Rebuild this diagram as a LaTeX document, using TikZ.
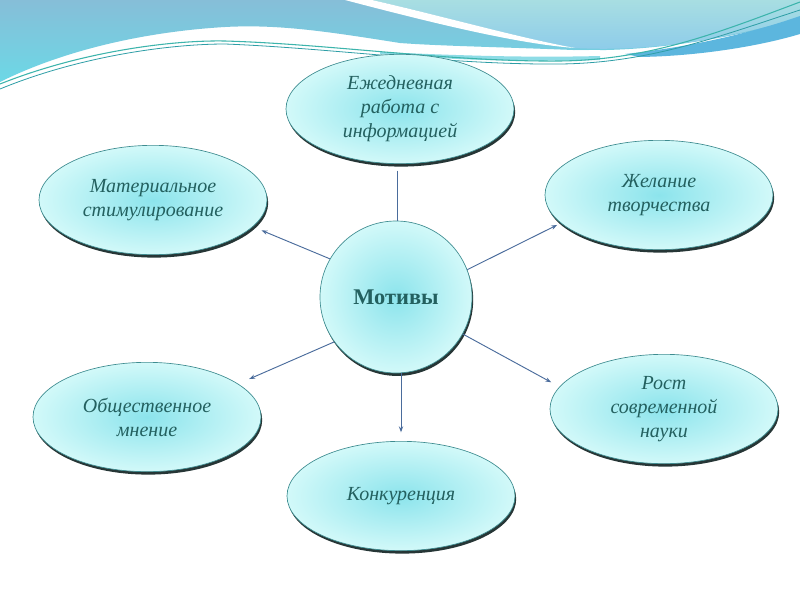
\documentclass[tikz,border=0pt]{standalone}
\usepackage{fontspec}
\setmainfont{Liberation Serif}
\usetikzlibrary{shapes.geometric,shadows,arrows.meta}
\definecolor{txtc}{HTML}{23605F}
\definecolor{edgec}{HTML}{3E8C90}
\definecolor{innerc}{HTML}{8CE4EC}
\definecolor{outerc}{HTML}{D2F9F9}
\definecolor{connc}{HTML}{4A6C9C}
\definecolor{bandA}{HTML}{86BED8}
\definecolor{bandAb}{HTML}{6CD8E6}
\definecolor{bandB}{HTML}{A8DEE2}
\definecolor{bandBb}{HTML}{8CCBEA}
\definecolor{bandC}{HTML}{5CB6DE}
\definecolor{bandD}{HTML}{8EDCE6}
\definecolor{wline}{HTML}{3CB4AC}
\definecolor{wline2}{HTML}{2E9EA6}
\begin{document}
\begin{tikzpicture}[x=0.75pt,y=-0.75pt,
  bubble/.style={ellipse, draw=edgec, line width=0.5pt, inner sep=0pt,
    inner color=innerc, outer color=outerc,
    minimum width=171pt, minimum height=82pt,
    text=txtc, align=center, font=\itshape\fontsize{15}{18}\selectfont,
    drop shadow={shadow xshift=0.9pt, shadow yshift=-2.2pt, fill=black!85!teal, opacity=0.85}},
  hub/.style={circle, draw=edgec, line width=0.5pt, inner sep=0pt,
    inner color=innerc, outer color=outerc, minimum size=114pt,
    text=txtc, font=\bfseries\fontsize{16.8}{18}\selectfont,
    drop shadow={shadow xshift=0.9pt, shadow yshift=-2.2pt, fill=black!85!teal, opacity=0.85}},
  conn/.style={draw=connc, line width=0.7pt, -{Stealth[length=4.5pt,width=3.2pt]}},
  plainconn/.style={draw=connc, line width=0.7pt}]
\useasboundingbox (0,0) rectangle (800,600);
\fill[white] (0,0) rectangle (800,600);
% top banner
\shade[top color=bandA, bottom color=bandAb]
  (0,0) -- (800,0) -- (800,20) .. controls (720,40) and (650,52) .. (573,50)
  .. controls (500,47) and (440,46) .. (400,43)
  .. controls (330,32) and (280,24) .. (225,27)
  .. controls (140,32) and (60,52) .. (0,82) -- cycle;
\shade[top color=bandB, bottom color=bandBb]
  (372,0) -- (800,0) -- (800,18) .. controls (720,40) and (650,52) .. (575,48)
  .. controls (520,38) and (450,18) .. (372,0) -- cycle;
\fill[white] (345,0) -- (372,0) .. controls (450,18) and (520,38) .. (575,48)
  .. controls (520,44) and (440,25) .. (345,0) -- cycle;
\fill[bandC] (625,54) .. controls (700,46) and (760,30) .. (800,16) -- (800,34)
  .. controls (760,46) and (700,56) .. (640,57) -- cycle;
\fill[white] (0,84) .. controls (60,55) and (140,34) .. (225,29)
  .. controls (280,26) and (330,34) .. (400,45)
  .. controls (450,50) and (520,52) .. (600,50) -- (600,53)
  .. controls (520,55) and (450,54) .. (400,50)
  .. controls (330,42) and (280,36) .. (225,38) -- (0,90) -- cycle;
\fill[bandD] (380,52) .. controls (450,55) and (520,58) .. (600,56) -- (600,60)
  .. controls (520,62) and (450,60) .. (380,54) -- cycle;
\draw[wline, line width=0.8pt] (0,84) .. controls (80,52) and (170,40) .. (225,41)
  .. controls (330,44) and (450,62) .. (560,61) .. controls (650,60) and (720,32) .. (800,2);
\draw[wline2, line width=0.6pt] (0,89) .. controls (80,56) and (170,44) .. (225,44)
  .. controls (330,48) and (450,65) .. (560,64) .. controls (650,63) and (720,36) .. (800,10);
% nodes
\node[hub] (m) at (396,297) {Мотивы};
\node[bubble] (ezh) at (400,109) {Ежедневная\\работа с\\информацией};
\node[bubble] (mat) at (153,200) {Материальное\\стимулирование};
\node[bubble] (zhel) at (659,195) {Желание\\творчества};
\node[bubble] (obsh) at (147,417) {Общественное\\мнение};
\node[bubble] (rost) at (664,409) {Рост\\современной\\науки};
\node[bubble] (konk) at (401,496) {Конкуренция};
% connectors
\draw[plainconn] ([xshift=-2pt,yshift=-5pt]ezh.south) -- ([xshift=-2pt]ezh.south |- m.north);
\draw[conn, shorten >=7pt] (m.150) -- (mat.-15);
\draw[conn, shorten >=3pt] (m.21) -- (zhel.196);
\draw[conn, shorten >=9pt] (m.216) -- (obsh.20);
\draw[conn, shorten >=7pt] (m.-29) -- (rost.168);
\draw[conn, shorten >=6.5pt] (konk.north |- m.south) -- (konk.north);
\end{tikzpicture}
\end{document}
